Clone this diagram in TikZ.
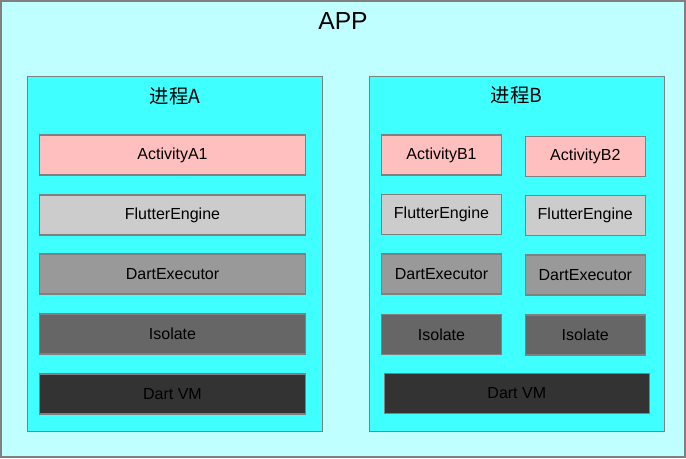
\documentclass[tikz,border=0pt]{standalone}
\usepackage{fontspec}
\setmainfont{Liberation Sans}
\newfontfamily\cjk{Noto Sans CJK SC}
\definecolor{appfill}{HTML}{BFFFFF}
\definecolor{procfill}{HTML}{40FFFF}
\definecolor{edge}{HTML}{808080}
\definecolor{actfill}{HTML}{FFBFBF}
\definecolor{fefill}{HTML}{CCCCCC}
\definecolor{defill}{HTML}{999999}
\definecolor{isofill}{HTML}{666666}
\definecolor{vmfill}{HTML}{333333}
\tikzset{
  box/.style={draw=edge, line width=0.9pt, rectangle, inner sep=0pt, minimum height=30pt, font=\fontsize{12}{14}\selectfont, text=black},
  wide/.style={box, minimum width=200pt},
  narrow/.style={box, minimum width=90pt},
  proc/.style={draw=edge, line width=0.8pt, fill=procfill, rectangle, inner sep=0pt, minimum width=221.25pt, minimum height=266pt},
  ptitle/.style={font=\cjk\fontsize{14.5}{16}\selectfont, inner sep=0pt},
}
\begin{document}
\begin{tikzpicture}[x=0.75pt,y=-0.75pt]
\useasboundingbox (0,0) rectangle (686,458);
\node[draw=edge, line width=1.5pt, fill=appfill, rectangle, inner sep=0pt, minimum width=513pt, minimum height=342pt] (app) at (343,229) {};
\node[font=\fontsize{18.5}{20}\selectfont, inner sep=0pt] (apptitle) at (343,21) {APP};

\node[proc] (procA) at (174.8,253.7) {};
\node[ptitle] (titleA) at (175,96) {进程A};
\node[proc] (procB) at (516.8,253.7) {};
\node[ptitle] (titleB) at (516.5,95) {进程B};

% Process A
\node[wide, fill=actfill] (a1) at (172.5,155) {ActivityA1};
\node[wide, fill=fefill] (feA) at (172.5,215) {FlutterEngine};
\node[wide, fill=defill] (deA) at (172.5,274) {DartExecutor};
\node[wide, fill=isofill] (isoA) at (172.5,334) {Isolate};
\node[wide, fill=vmfill] (vmA) at (172.5,394) {Dart VM};

% Process B
\node[narrow, fill=actfill] (b1) at (441.5,155) {ActivityB1};
\node[narrow, fill=fefill] (feB1) at (441.5,214.3) {FlutterEngine};
\node[narrow, fill=defill] (deB1) at (441.5,274) {DartExecutor};
\node[narrow, fill=isofill] (isoB1) at (441.5,334.3) {Isolate};

\node[narrow, fill=actfill] (b2) at (585.3,156.3) {ActivityB2};
\node[narrow, fill=fefill] (feB2) at (585.3,215.3) {FlutterEngine};
\node[narrow, fill=defill] (deB2) at (585.3,275) {DartExecutor};
\node[narrow, fill=isofill] (isoB2) at (585.3,335) {Isolate};

\node[box, minimum width=198.75pt, fill=vmfill] (vmB) at (516.8,393.3) {Dart VM};
\end{tikzpicture}
\end{document}
